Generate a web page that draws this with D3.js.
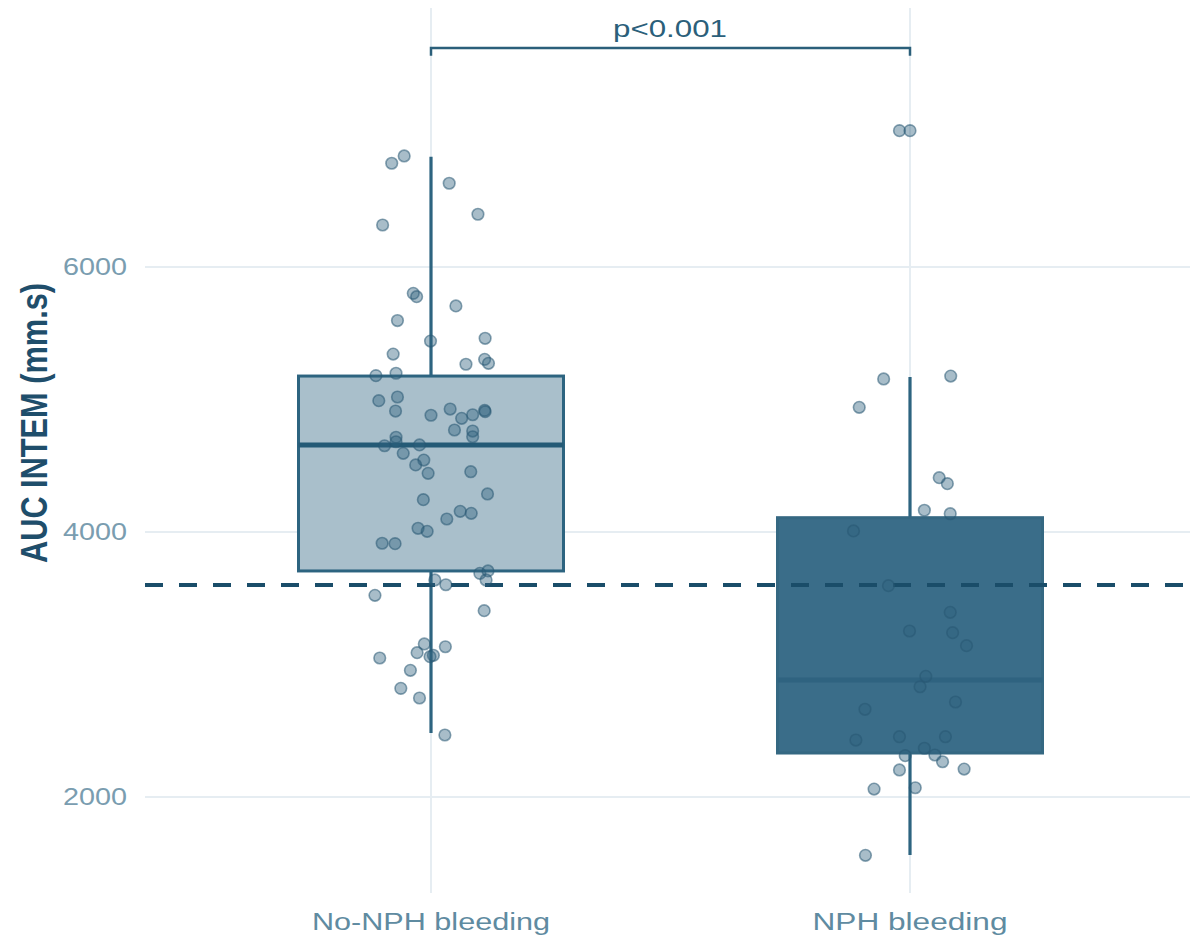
<!DOCTYPE html>
<html><head><meta charset="utf-8">
<script src="https://d3js.org/d3.v7.min.js"></script>
<style>html,body{margin:0;padding:0;background:#fff;}svg{display:block;font-family:"Liberation Sans",Arial,sans-serif;}</style>
</head><body>
<svg id="chart" width="1190" height="941"></svg>
<script>
// ---- data ----
const categories = ["No-NPH bleeding", "NPH bleeding"];
const boxQ1 = [3706, 2332];
const boxMedian = [4657, 2883];
const boxQ3 = [5177, 4108];
const whiskerLow = [2483, 1562];
const whiskerHigh = [6832, 5170];
const yTicks = [2000, 4000, 6000];
const yTitle = "AUC INTEM (mm.s)";
const thresholdValue = 3600;
const pLabel = "p<0.001";
const bracketValue = 7653;
const bracketTickValue = 7595;
const pLabelValue = 7735;

const noNphValues = [6783,6838,6632,6398,6317,5801,5776,5706,5596,5441,5462,5343,5303,5273,5266,5180,5198,4991,5019,4913,4881,4928,4858,4885,4918,4908,4770,4762,4719,4715,4651,4681,4657,4594,4543,4506,4443,4455,4287,4244,4156,4141,4098,4028,4005,3915,3912,3688,3706,3638,3638,3602,3522,3406,3155,3134,3089,3059,3069,3049,2956,2820,2747,2468];
const noNphJitter = [-0.082,-0.056,0.038,0.098,-0.101,-0.037,-0.030,0.052,-0.070,-0.001,0.113,-0.079,0.112,0.120,0.073,-0.115,-0.073,-0.109,-0.070,-0.074,0.000,0.040,0.064,0.087,0.112,0.113,0.049,0.087,0.087,-0.073,-0.097,-0.073,-0.024,-0.058,-0.015,-0.032,-0.006,0.083,0.118,-0.016,0.061,0.084,0.033,-0.027,-0.008,-0.102,-0.075,0.102,0.119,0.115,0.008,0.031,-0.117,0.111,-0.014,0.030,-0.029,-0.002,0.005,-0.107,-0.043,-0.063,-0.024,0.029];
const nphValues = [7029,7029,5155,5177,4941,4410,4365,4164,4138,4008,3595,3394,3253,3240,3142,2911,2832,2717,2662,2430,2455,2455,2368,2312,2317,2266,2204,2211,2060,2070,1560];
const nphJitter = [-0.022,0.000,-0.055,0.085,-0.106,0.061,0.078,0.030,0.084,-0.118,-0.045,0.084,-0.001,0.089,0.118,0.033,0.021,0.095,-0.094,-0.113,-0.022,0.074,0.030,-0.010,0.052,0.068,-0.022,0.113,-0.075,0.011,-0.093];

// ---- layout ----
const plotLeft = 145, plotRight = 1190, plotTop = 8, plotBottom = 893;
const svg = d3.select("#chart");

const x = d3.scalePoint().domain(categories).range([431, 910]);
const xi = d3.scaleLinear().domain([0, 1]).range([431, 910]);
const y = d3.scaleLinear().domain([2000, 6000]).range([797, 267]);
const boxW = 265;

const gridColor = "#e6edf2";
const darkLine = "#2d6480";

// gridlines
svg.append("g").selectAll("line.h").data(yTicks).join("line")
  .attr("x1", plotLeft).attr("x2", plotRight)
  .attr("y1", d => y(d)).attr("y2", d => y(d))
  .attr("stroke", gridColor).attr("stroke-width", 2);
svg.append("g").selectAll("line.v").data(categories).join("line")
  .attr("x1", d => x(d)).attr("x2", d => x(d))
  .attr("y1", plotTop).attr("y2", plotBottom)
  .attr("stroke", gridColor).attr("stroke-width", 2);

// y tick labels
svg.append("g").selectAll("text").data(yTicks).join("text")
  .attr("x", 127).attr("y", d => y(d)).attr("dy", "0.36em")
  .attr("text-anchor", "end").attr("font-size", 23.5)
  .attr("fill", "#7a9db0")
  .attr("textLength", 64).attr("lengthAdjust", "spacingAndGlyphs")
  .text(d => d3.format("d")(d));

// x labels
const xLabelW = [238, 195];
svg.append("g").selectAll("text").data(categories).join("text")
  .attr("x", d => x(d)).attr("y", 930)
  .attr("text-anchor", "middle").attr("font-size", 23.5)
  .attr("fill", "#5f8ba1")
  .attr("textLength", (d, i) => xLabelW[i]).attr("lengthAdjust", "spacingAndGlyphs")
  .text(d => d);

// y title
svg.append("text")
  .attr("transform", "translate(47,423) rotate(-90) scale(1,1.3)")
  .attr("text-anchor", "middle").attr("font-size", 28).attr("font-weight", "bold")
  .attr("fill", "#1f4e6b")
  .attr("textLength", 280).attr("lengthAdjust", "spacingAndGlyphs")
  .text(yTitle);

// whiskers
const boxFill = ["#a9bfcb", "#3a6d89"];
const boxStroke = ["#2d6480", "#356882"];
const medStroke = ["#245a76", "#2f6380"];
svg.append("g").selectAll("line").data(categories).join("line")
  .attr("x1", d => x(d)).attr("x2", d => x(d))
  .attr("y1", (d, i) => y(whiskerLow[i])).attr("y2", (d, i) => y(whiskerHigh[i]))
  .attr("stroke", darkLine).attr("stroke-width", 3.2);

// boxes
svg.append("g").selectAll("rect").data(categories).join("rect")
  .attr("x", d => x(d) - boxW / 2).attr("width", boxW)
  .attr("y", (d, i) => y(boxQ3[i])).attr("height", (d, i) => y(boxQ1[i]) - y(boxQ3[i]))
  .attr("fill", (d, i) => boxFill[i]).attr("stroke", (d, i) => boxStroke[i]).attr("stroke-width", 3);
svg.append("g").selectAll("line").data(categories).join("line")
  .attr("x1", d => x(d) - boxW / 2).attr("x2", d => x(d) + boxW / 2)
  .attr("y1", (d, i) => y(boxMedian[i])).attr("y2", (d, i) => y(boxMedian[i]))
  .attr("stroke", (d, i) => medStroke[i]).attr("stroke-width", 5);

// threshold dashed line
svg.append("line")
  .attr("x1", plotLeft).attr("x2", plotRight)
  .attr("y1", y(thresholdValue)).attr("y2", y(thresholdValue))
  .attr("stroke", "#1a4d69").attr("stroke-width", 4).attr("stroke-dasharray", "18,16");

// points
const pts = [];
noNphValues.forEach((v, k) => pts.push({g: 0, v, j: noNphJitter[k]}));
nphValues.forEach((v, k) => pts.push({g: 1, v, j: nphJitter[k]}));
svg.append("g").selectAll("circle").data(pts).join("circle")
  .attr("cx", d => xi(d.g + d.j)).attr("cy", d => y(d.v)).attr("r", 5.8)
  .attr("fill", "rgba(48,98,126,0.42)").attr("stroke", "rgba(40,88,114,0.55)").attr("stroke-width", 1.6);

// significance bracket
const bracket = d3.line()([
  [x(categories[0]), y(bracketTickValue)], [x(categories[0]), y(bracketValue)],
  [x(categories[1]), y(bracketValue)], [x(categories[1]), y(bracketTickValue)]
]);
svg.append("path").attr("d", bracket).attr("fill", "none")
  .attr("stroke", "#2b5f7a").attr("stroke-width", 2.5);
svg.append("text")
  .attr("x", (x(categories[0]) + x(categories[1])) / 2 - 0.5).attr("y", y(pLabelValue))
  .attr("text-anchor", "middle").attr("font-size", 24)
  .attr("fill", "#2b5f7a")
  .attr("textLength", 114).attr("lengthAdjust", "spacingAndGlyphs")
  .text(pLabel);
</script>
</body></html>
